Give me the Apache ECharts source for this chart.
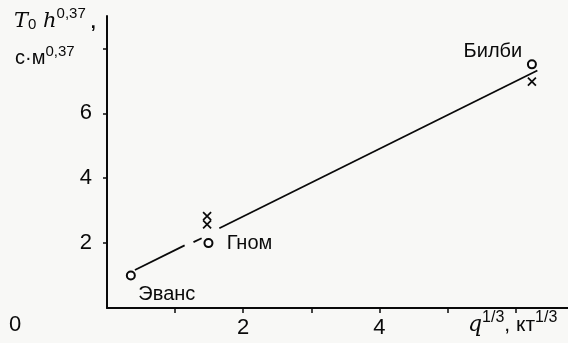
<!DOCTYPE html>
<html>
<head>
<meta charset="utf-8">
<script src="https://cdn.jsdelivr.net/npm/echarts@6.0.0/dist/echarts.min.js"></script>
<style>
  html, body { margin: 0; padding: 0; background: #f8f8f6; }
  #chart { width: 568px; height: 343px; }
</style>
</head>
<body>
<div id="chart"></div>
<script>
// measured points, q^(1/3) vs T0*h^0.37
var circleNames = ['Эванс', 'Гном', 'Билби'];
var circleX = [0.35, 1.49, 6.24];
var circleY = [1.0, 2.0, 7.51];
var crossX = [1.47, 1.47, 6.24];
var crossY = [2.83, 2.58, 6.98];
// fitted line, drawn in pieces (gaps around the Гном marks)
var fitSegments = [
    [[0.41, 1.17], [1.14, 1.93]],
    [[1.27, 2.03], [1.39, 2.15]],
    [[1.65, 2.46], [6.32, 7.32]]
];
var xTicks = [1, 2, 3, 4, 5, 6];
var xLabels = [2, 4];
var yTicks = [2, 4, 6, 8];
var yLabels = [2, 4, 6];

var INK = '#0a0a0a';
var FONT = '"Liberation Sans", Arial, sans-serif';

var labelOffsets = [[36, 19], [41, 0], [-39, -13]];

var myChart = echarts.init(document.getElementById('chart'));

var lineSeries = fitSegments.map(function (seg) {
    return {
        type: 'line',
        data: seg,
        symbol: 'none',
        silent: true,
        lineStyle: { color: INK, width: 1.8 },
        z: 2
    };
});

var option = {
    backgroundColor: '#f8f8f6',
    animation: false,
    grid: { left: 107, right: 0, top: 16, bottom: 35 },
    xAxis: {
        type: 'value',
        min: 0,
        max: 6.77,
        splitLine: { show: false },
        axisLine: { lineStyle: { color: INK, width: 2 } },
        axisTick: { show: true, length: 5, customValues: xTicks, lineStyle: { color: INK, width: 1.5 } },
        axisLabel: {
            customValues: xLabels, color: INK, fontSize: 22, fontFamily: FONT, margin: 9
        }
    },
    yAxis: {
        type: 'value',
        min: 0,
        max: 9,
        splitLine: { show: false },
        axisLine: { show: true, lineStyle: { color: INK, width: 2 } },
        axisTick: { show: true, length: 4, customValues: yTicks, lineStyle: { color: INK, width: 1.5 } },
        axisLabel: {
            customValues: yLabels, color: INK, fontSize: 22, fontFamily: FONT, margin: 15
        }
    },
    series: lineSeries.concat([
        {
            type: 'scatter',
            symbol: 'emptyCircle',
            symbolSize: 8,
            itemStyle: { color: INK, borderColor: INK, borderWidth: 1.6, opacity: 1 },
            data: circleX.map(function (x, i) {
                return {
                    value: [x, circleY[i]],
                    label: {
                        show: true,
                        formatter: circleNames[i],
                        position: 'inside',
                        offset: labelOffsets[i],
                        color: INK,
                        fontSize: 20,
                        fontFamily: FONT
                    }
                };
            }),
            z: 3
        },
        {
            type: 'scatter',
            symbol: 'path://M0,0L10,10M10,0L0,10',
            symbolSize: 8,
            itemStyle: { color: 'none', borderColor: INK, borderWidth: 1.7, opacity: 1 },
            data: crossX.map(function (x, i) { return [x, crossY[i]]; }),
            z: 3
        }
    ]),
    graphic: [
        {
            type: 'text', left: 9, top: 314,
            style: { text: '0', fill: INK, fontSize: 22, fontFamily: FONT }
        },
        {
            type: 'text', left: 14, top: 6,
            style: {
                text: '{it|T}{sub|0}{it| h}{sup|0,37}{b| ,}',
                fill: INK,
                rich: {
                    it: { fontSize: 21, fontStyle: 'italic', fontFamily: 'DejaVu Serif, serif', fill: INK, lineHeight: 26, verticalAlign: 'bottom' },
                    sub: { fontSize: 15, fontFamily: FONT, fill: INK, lineHeight: 14, verticalAlign: 'bottom' },
                    sup: { fontSize: 15, fontFamily: FONT, fill: INK, lineHeight: 14, verticalAlign: 'top' },
                    b: { fontSize: 18, fontWeight: 'bold', fontFamily: FONT, fill: INK, lineHeight: 26, verticalAlign: 'bottom' }
                }
            }
        },
        {
            type: 'text', left: 15, top: 44,
            style: {
                text: '{b|с·м}{sup|0,37}',
                fill: INK,
                rich: {
                    b: { fontSize: 20, fontFamily: FONT, fill: INK, lineHeight: 24, verticalAlign: 'bottom' },
                    sup: { fontSize: 15, fontFamily: FONT, fill: INK, lineHeight: 14, verticalAlign: 'top' }
                }
            }
        },
        {
            type: 'text', left: 468, top: 310,
            style: {
                text: '{it|q}{sup|1/3}{b|, кт}{sup|1/3}',
                fill: INK,
                rich: {
                    it: { fontSize: 22, fontStyle: 'italic', fontFamily: 'DejaVu Serif, serif', fill: INK, lineHeight: 26, verticalAlign: 'bottom' },
                    sup: { fontSize: 16, fontFamily: FONT, fill: INK, lineHeight: 14, verticalAlign: 'top' },
                    b: { fontSize: 21, fontFamily: FONT, fill: INK, lineHeight: 26, verticalAlign: 'bottom' }
                }
            }
        }
    ]
};

myChart.setOption(option);
</script>
</body>
</html>
